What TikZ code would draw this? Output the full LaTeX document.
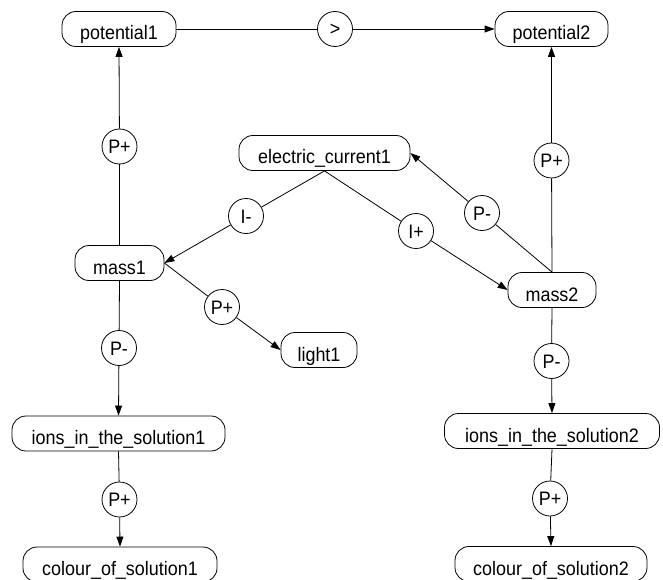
\documentclass[tikz,border=0pt]{standalone}
\usepackage{fontspec}
\setmainfont{Liberation Sans}
\newfontfamily\qfont[FakeStretch=0.92]{Liberation Sans}
\usetikzlibrary{arrows.meta}
\tikzset{
  qbox/.style={draw, line width=0.8pt, rounded corners=14pt, inner sep=0pt,
    minimum height=35pt, text height=22pt, text depth=0pt,
    font=\qfont\fontsize{19.5}{22}\selectfont},
  qrel/.style={draw, circle, line width=0.8pt, inner sep=0pt, minimum size=35pt,
    text height=14pt, text depth=0pt, font=\qfont\fontsize{19.5}{22}\selectfont},
  conn/.style={line width=0.8pt},
  arr/.style={line width=0.8pt, -{Triangle[length=10pt,width=7pt]}}
}
\begin{document}
\begin{tikzpicture}[x=1pt,y=-1pt]
\useasboundingbox (0,0) rectangle (663,580);
% quantity nodes
\node[qbox, minimum width=114pt] (pot1) at (119,29) {potential1};
\node[qbox, minimum width=113pt] (pot2) at (551.5,29) {potential2};
\node[qbox, minimum width=171pt] (ec) at (324.5,153) {electric\_current1};
\node[qbox, minimum width=89pt] (mass1) at (119.5,263) {mass1};
\node[qbox, minimum width=88pt] (mass2) at (552,290) {mass2};
\node[qbox, minimum width=76pt] (light1) at (319,350) {light1};
\node[qbox, minimum width=213pt] (ions1) at (118.5,433.5) {ions\_in\_the\_solution1};
\node[qbox, minimum width=215pt] (ions2) at (552,431) {ions\_in\_the\_solution2};
\node[qbox, minimum width=194pt] (col1) at (120,564.5) {colour\_of\_solution1};
\node[qbox, minimum width=192pt] (col2) at (551,564) {colour\_of\_solution2};
% relation nodes
\node[qrel] (gt) at (335,29) {>};
\node[qrel] (pp1) at (119.5,146.5) {P+};
\node[qrel] (pp2) at (551.5,160.5) {P+};
\node[qrel] (im) at (246,216) {I-};
\node[qrel] (pmu) at (482,213) {P-};
\node[qrel] (ip) at (416,231) {I+};
\node[qrel] (pp3) at (222,307) {P+};
\node[qrel] (pm1) at (119,348) {P-};
\node[qrel] (pm2) at (551.5,361) {P-};
\node[qrel] (pp4) at (119.5,499.5) {P+};
\node[qrel] (pp5) at (550,498.5) {P+};
% connectors
\draw[conn] (pot1.east) -- (gt);
\draw[arr] (gt) -- (pot2.west);
\draw[conn] (mass1.north) -- (pp1);
\draw[arr] (pp1) -- (pot1.south);
\draw[conn] (mass2.north) -- (pp2);
\draw[arr] (pp2) -- (pot2.south);
\draw[conn] (mass2.north) -- (pmu);
\draw[arr] (pmu) -- (ec.east);
\draw[conn] (ec.south) -- (im);
\draw[arr] (im) -- (mass1.east);
\draw[conn] (ec.south) -- (ip);
\draw[arr] (ip) -- (mass2.west);
\draw[conn] (mass1.east) -- (pp3);
\draw[arr] (pp3) -- (light1.west);
\draw[conn] (mass1.south) -- (pm1);
\draw[arr] (pm1) -- (ions1.north);
\draw[conn] (mass2.south) -- (pm2);
\draw[arr] (pm2) -- (ions2.north);
\draw[conn] (ions1.south) -- (pp4);
\draw[arr] (pp4) -- (col1.north);
\draw[conn] (ions2.south) -- (pp5);
\draw[arr] (pp5) -- (col2.north);
\end{tikzpicture}
\end{document}
